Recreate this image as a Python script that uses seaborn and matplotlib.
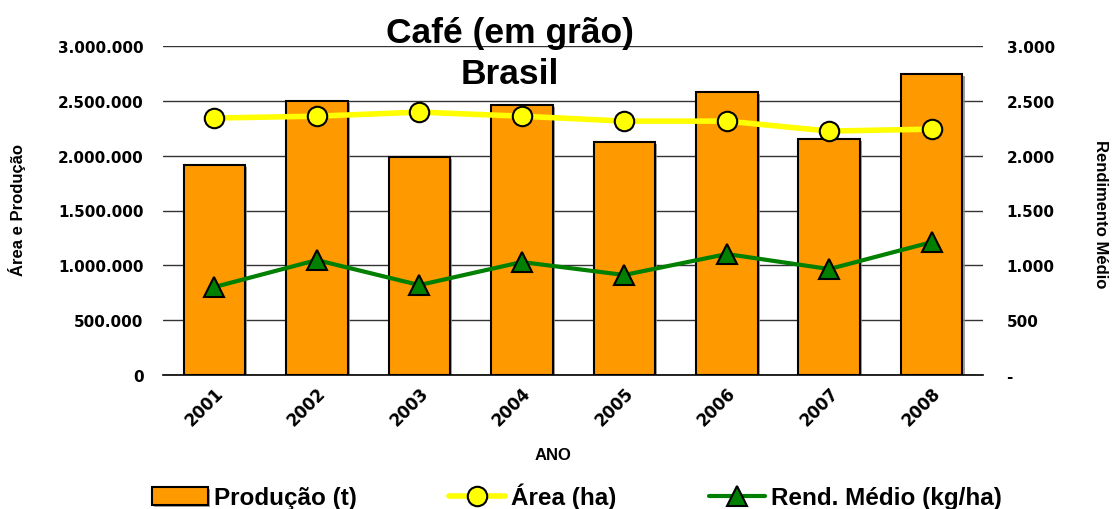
import pandas as pd
import matplotlib
matplotlib.use("Agg")
import matplotlib.pyplot as plt
import matplotlib.patheffects as pe
from matplotlib.ticker import FuncFormatter, MultipleLocator
import seaborn as sns

anos = ["2001", "2002", "2003", "2004", "2005", "2006", "2007", "2008"]
producao = [1914000, 2498000, 1987000, 2461000, 2124000, 2580000, 2151000, 2744000]
area = [2343000, 2360000, 2397000, 2360000, 2315000, 2315000, 2224000, 2242000]
rendimento = [802, 1048, 820, 1030, 912, 1103, 966, 1212]

df = pd.DataFrame({"ano": anos, "producao": producao, "area": area, "rend": rendimento})

sns.set_style("white")
plt.rcParams["font.family"] = ["Liberation Sans", "DejaVu Sans"]
plt.rcParams["text.color"] = "black"
plt.rcParams["xtick.color"] = "black"
plt.rcParams["ytick.color"] = "black"
plt.rcParams["axes.labelcolor"] = "black"

LARANJA = "#FF9900"
AMARELO = "#FFFF00"
VERDE = "#008000"

fig = plt.figure(figsize=(11.12, 5.10), dpi=100)
ax = fig.add_axes([163 / 1112, 1 - 376 / 510, 820 / 1112, 329 / 510])
ax2 = ax.twinx()

sns.barplot(data=df, x="ano", y="producao", color=LARANJA, width=0.6,
            edgecolor="black", linewidth=1.5, saturation=1, ax=ax, zorder=2)
for bar in ax.patches:
    bar.set_path_effects([pe.SimplePatchShadow(offset=(1.5, -1.5), shadow_rgbFace="#888888", alpha=0.8),
                          pe.Normal()])

sns.pointplot(data=df, x="ano", y="area", color=AMARELO, markers="o",
              errorbar=None, ax=ax, linewidth=4, markersize=14)
linha_area = ax.lines[-1]
linha_area.set_markeredgecolor("black")
linha_area.set_markeredgewidth(1.5)
linha_area.set_markerfacecolor(AMARELO)
linha_area.set_zorder(4)

sns.pointplot(data=df, x="ano", y="rend", color=VERDE, markers="^",
              errorbar=None, ax=ax2, linewidth=3, markersize=14)
linha_rend = ax2.lines[-1]
linha_rend.set_markeredgecolor("black")
linha_rend.set_markeredgewidth(1.5)
linha_rend.set_markerfacecolor(VERDE)

ax.set_ylim(0, 3000000)
ax2.set_ylim(0, 3000)
ax.set_xlim(-0.5, len(anos) - 0.5)
ax.yaxis.set_major_locator(MultipleLocator(500000))
ax2.yaxis.set_major_locator(MultipleLocator(500))
ax.yaxis.set_major_formatter(FuncFormatter(lambda v, p: f"{int(v):,}".replace(",", ".")))
ax2.yaxis.set_major_formatter(FuncFormatter(lambda v, p: "-" if v == 0 else f"{int(v):,}".replace(",", ".")))

ax.set_axisbelow(True)
ax.grid(axis="y", color="#333333", linewidth=1)
ax.grid(axis="x", visible=False)
ax2.grid(False)

for a in (ax, ax2):
    for s in ("left", "right", "top"):
        a.spines[s].set_visible(False)
    a.set_xlabel("")
    a.set_ylabel("")
ax.spines["bottom"].set_color("black")
ax.spines["bottom"].set_linewidth(1.2)
ax2.spines["bottom"].set_visible(False)

ax.tick_params(axis="y", length=0, pad=14)
ax2.tick_params(axis="y", length=0, pad=17)
ax.tick_params(axis="x", length=0, pad=6)
for lbl in ax.get_yticklabels() + ax2.get_yticklabels():
    lbl.set_fontfamily("DejaVu Sans")
    lbl.set_fontweight("bold")
    lbl.set_fontsize(11)
ax.set_xticks(range(len(anos)))
ax.set_xticklabels(anos, rotation=45, ha="right", rotation_mode="anchor",
                   fontsize=12, fontweight="bold", family="DejaVu Sans")

fig.text(510 / 1112, 1 - 17 / 510, "Café (em grão)\nBrasil", ha="center", va="top",
         fontsize=25.5, fontweight="bold", linespacing=1.3)
fig.text(553 / 1112, 1 - 455 / 510, "ANO", ha="center", va="center",
         fontsize=12, fontweight="bold")
fig.text(17 / 1112, 1 - 210 / 510, "Área e Produção", ha="center", va="center",
         rotation=90, fontsize=12, fontweight="bold")
fig.text(1100 / 1112, 1 - 214 / 510, "Rendimento Médio", ha="center", va="center",
         rotation=-90, fontsize=12, fontweight="bold")

handles = [ax.patches[0], linha_area, linha_rend]
labels = ["Produção (t)", "Área (ha)", "Rend. Médio (kg/ha)"]
fig.legend(handles, labels, loc="center", bbox_to_anchor=(577 / 1112, 1 - 497 / 510),
           ncol=3, frameon=False, handlelength=2.3, handleheight=0.75,
           handletextpad=0.25, columnspacing=3.8,
           prop={"size": 17.5, "weight": "bold"})

fig.savefig("out.png", dpi=100)
